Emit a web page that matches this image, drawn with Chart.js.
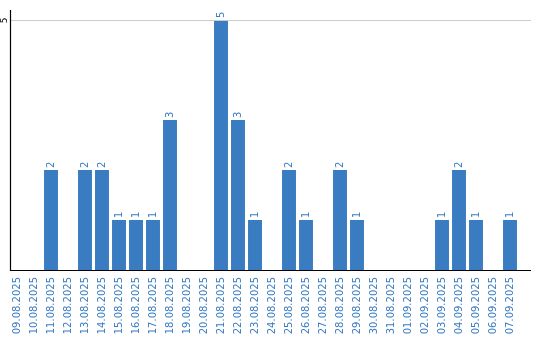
<!DOCTYPE html>
<html>
<head>
<meta charset="utf-8">
<script src="https://cdn.jsdelivr.net/npm/chart.js@4/dist/chart.umd.min.js"></script>
<style>
  html, body { margin: 0; padding: 0; background: #fff; }
  #wrap { width: 540px; height: 340px; }
</style>
</head>
<body>
<div id="wrap"><canvas id="barChart"></canvas></div>
<script>
// Dates and counts
const days = ['09.08.2025', '10.08.2025', '11.08.2025', '12.08.2025', '13.08.2025', '14.08.2025',
  '15.08.2025', '16.08.2025', '17.08.2025', '18.08.2025', '19.08.2025', '20.08.2025',
  '21.08.2025', '22.08.2025', '23.08.2025', '24.08.2025', '25.08.2025', '26.08.2025',
  '27.08.2025', '28.08.2025', '29.08.2025', '30.08.2025', '31.08.2025', '01.09.2025',
  '02.09.2025', '03.09.2025', '04.09.2025', '05.09.2025', '06.09.2025', '07.09.2025'];
const counts = [0, 0, 2, 0, 2, 2, 1, 1, 1, 3, 0, 0, 5, 3, 1, 0, 2, 1, 0, 2, 1, 0, 0, 0, 0, 1, 2, 1, 0, 1];
const yTicks = [5];

const blue = '#3a7cc1';

// Draws the gridline, axis lines, the rotated y tick and the value labels
const extras = {
  id: 'extras',
  afterDatasetsDraw(chart) {
    const ctx = chart.ctx;
    const area = chart.chartArea;
    const y = chart.scales.y;
    const left = 10.5;
    const right = 531;
    ctx.save();
    // gridline + tick label
    yTicks.forEach(v => {
      const py = Math.round(y.getPixelForValue(v)) + 0.5;
      ctx.strokeStyle = '#cccccc';
      ctx.lineWidth = 1;
      ctx.beginPath();
      ctx.moveTo(left, py);
      ctx.lineTo(right, py);
      ctx.stroke();
      ctx.save();
      ctx.translate(5, py);
      ctx.rotate(-Math.PI / 2);
      ctx.fillStyle = '#000';
      ctx.font = '9px "DejaVu Sans"';
      ctx.textAlign = 'center';
      ctx.textBaseline = 'middle';
      ctx.fillText(String(v), 0, 0);
      ctx.restore();
    });
    // axis lines
    const bottom = Math.round(area.bottom) + 0.5;
    ctx.strokeStyle = '#000';
    ctx.lineWidth = 1.2;
    ctx.beginPath();
    ctx.moveTo(left, area.top);
    ctx.lineTo(left, bottom);
    ctx.lineTo(right, bottom);
    ctx.stroke();
    // value labels
    const meta = chart.getDatasetMeta(0);
    ctx.fillStyle = blue;
    ctx.font = '10px "DejaVu Sans"';
    ctx.textAlign = 'left';
    ctx.textBaseline = 'middle';
    meta.data.forEach((bar, i) => {
      if (!counts[i]) return;
      ctx.save();
      ctx.translate(bar.x, bar.y - 2);
      ctx.rotate(-Math.PI / 2);
      ctx.fillText(String(counts[i]), 0, 0);
      ctx.restore();
    });
    ctx.restore();
  }
};

const chart = new Chart(document.getElementById('barChart'), {
  type: 'bar',
  data: {
    labels: days,
    datasets: [{
      data: counts,
      backgroundColor: blue,
      borderWidth: 0,
      categoryPercentage: 1,
      barPercentage: 0.82
    }]
  },
  options: {
    responsive: true,
    maintainAspectRatio: false,
    animation: false,
    layout: { padding: { top: 10, right: 21.5, left: 0, bottom: 0 } },
    plugins: { legend: { display: false }, tooltip: { enabled: false } },
    scales: {
      x: {
        grid: { display: false, drawTicks: false },
        border: { display: false },
        ticks: {
          color: blue,
          font: { family: 'DejaVu Sans', size: 10 },
          minRotation: 90,
          maxRotation: 90,
          autoSkip: false,
          padding: 7
        },
        afterFit(scale) { scale.height = 70; }
      },
      y: {
        min: 0,
        max: 5.2,
        grid: { display: false },
        border: { display: false },
        ticks: { display: false },
        afterFit(scale) { scale.width = 8.5; }
      }
    }
  },
  plugins: [extras]
});
</script>
</body>
</html>
